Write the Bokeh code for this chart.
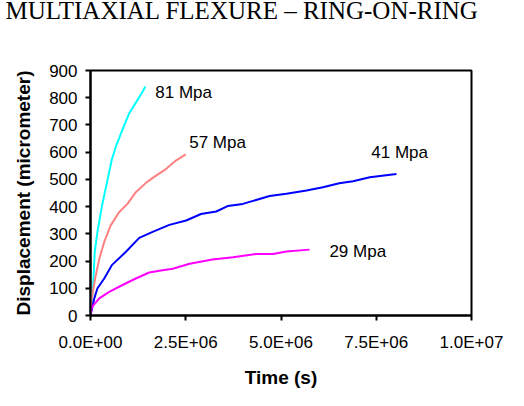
from bokeh.plotting import figure
from bokeh.models import Range1d, FixedTicker, Title
from bokeh.core.properties import value
from bokeh.embed import file_html
from bokeh.resources import INLINE

# ---- data ----
t81 = [0, 0.07e6, 0.11e6, 0.18e6, 0.30e6, 0.45e6, 0.56e6, 0.67e6, 0.84e6, 1.02e6, 1.24e6, 1.37e6, 1.44e6]
d81 = [0, 110, 232, 305, 402, 500, 573, 622, 683, 744, 793, 823, 841]

t57 = [0, 0.03e6, 0.12e6, 0.23e6, 0.36e6, 0.53e6, 0.75e6, 0.97e6, 1.19e6, 1.47e6, 1.72e6, 1.98e6, 2.24e6, 2.50e6]
d57 = [0, 60, 135, 208, 270, 331, 379, 410, 453, 489, 514, 538, 569, 592]

t41 = [0, 0.10e6, 0.18e6, 0.36e6, 0.56e6, 0.93e6, 1.28e6, 1.63e6, 2.07e6, 2.51e6, 2.90e6, 3.30e6,
       3.60e6, 4.00e6, 4.70e6, 5.14e6, 5.67e6, 6.10e6, 6.53e6, 6.89e6, 7.33e6, 8.03e6]
d41 = [0, 63, 99, 136, 185, 234, 285, 307, 333, 349, 373, 382, 402, 410, 439, 447, 459, 471, 486, 493, 508, 520]

t29 = [0, 0.03e6, 0.23e6, 0.49e6, 0.84e6, 1.19e6, 1.54e6, 1.89e6, 2.16e6, 2.60e6, 3.20e6, 3.74e6,
       4.35e6, 4.79e6, 5.14e6, 5.75e6]
d29 = [0, 30, 63, 87, 112, 136, 158, 166, 172, 190, 206, 214, 226, 226, 235, 242]

series_names = ["81 Mpa", "57 Mpa", "41 Mpa", "29 Mpa"]
label_x = [1.70e6, 2.59e6, 7.37e6, 6.27e6]
label_y = [818, 636, 599, 234]

x_ticks = [0, 2.5e6, 5.0e6, 7.5e6, 1.0e7]
x_tick_labels = ["0.0E+00", "2.5E+06", "5.0E+06", "7.5E+06", "1.0E+07"]
y_ticks = [0, 100, 200, 300, 400, 500, 600, 700, 800, 900]

colors = ["#00FFFF", "#FF8080", "#0000FF", "#FF00FF"]

p = figure(width=508, height=390, output_backend="svg", toolbar_location=None,
           x_range=Range1d(0, 1.0e7), y_range=Range1d(0, 900),
           min_border_left=90, min_border_right=37, min_border_top=70, min_border_bottom=74)
p.background_fill_color = "white"
p.border_fill_color = "white"
p.outline_line_color = "black"
p.outline_line_width = 2
p.grid.visible = False

# spacer between frame and title (closest to the frame)
spacer = Title(text=" ", text_font_size="1px", standoff=38, align="left")
main_title = Title(text="MULTIAXIAL FLEXURE \u2013 RING-ON-RING",
                   text_font="Liberation Serif", text_font_size="25px",
                   text_font_style="normal", text_color="black",
                   align="left", offset=-85, standoff=0)
try:
    main_title.standoff = -7
    main_title.vertical_align = "top"
    spacer.standoff = 45
except Exception:
    main_title.standoff = 0
    main_title.vertical_align = "bottom"
    spacer.standoff = 38
p.add_layout(spacer, "above")
p.add_layout(main_title, "above")

for t, d, c in zip([t81, t57, t41, t29], [d81, d57, d41, d29], colors):
    p.line(t, d, line_color=c, line_width=2)

p.text(x=label_x, y=label_y, text=series_names, text_font=value("Liberation Sans"),
       text_font_size="17px", text_baseline="middle", text_align="left", text_color="black")

p.xaxis.ticker = FixedTicker(ticks=x_ticks)
p.xaxis.major_label_overrides = {t: l for t, l in zip(x_ticks, x_tick_labels)}
p.yaxis.ticker = FixedTicker(ticks=y_ticks)
for ax in (p.xaxis[0], p.yaxis[0]):
    ax.axis_line_color = "black"
    ax.axis_line_width = 2
    ax.major_tick_line_color = "black"
    ax.major_tick_line_width = 2
    ax.major_tick_in = 0
    ax.major_tick_out = 5
    ax.minor_tick_line_color = None
    ax.major_label_text_font = "Liberation Sans"
    ax.major_label_text_font_size = "17px"
    ax.major_label_text_color = "black"
    ax.axis_label_text_font = "Liberation Sans"
    ax.axis_label_text_font_style = "bold"
    ax.axis_label_text_font_size = "19px"
    ax.axis_label_text_color = "black"

p.xaxis.axis_label = "Time (s)"
p.xaxis.major_label_standoff = 12
p.xaxis.axis_label_standoff = 12
p.yaxis.axis_label = "Displacement (micrometer)"
p.yaxis.major_label_standoff = 8
p.yaxis.axis_label_standoff = 12

open("out.html", "w").write(file_html(p, INLINE))
